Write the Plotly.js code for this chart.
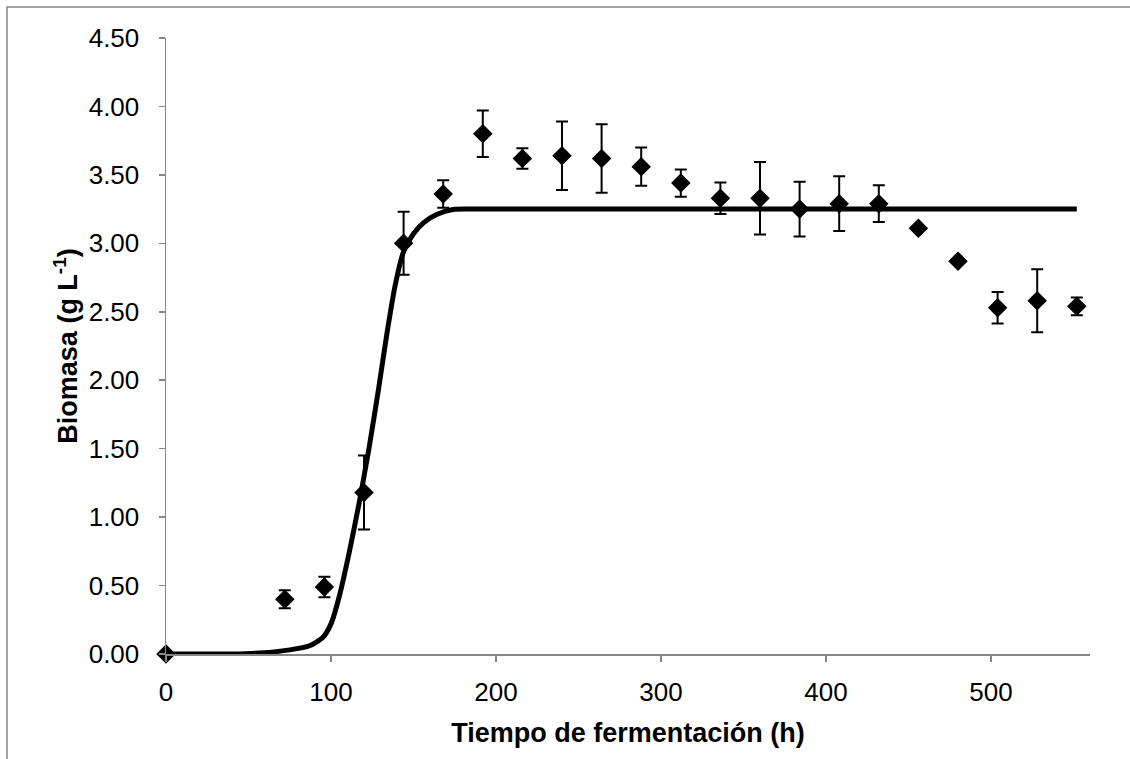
<!DOCTYPE html>
<html>
<head>
<meta charset="utf-8">
<script src="https://cdn.plot.ly/plotly-3.0.1.min.js"></script>
<style>
  html, body { margin: 0; padding: 0; background: #ffffff; }
  #chart { width: 1130px; height: 759px; }
</style>
</head>
<body>
<div id="chart"></div>
<script>
// Observed biomass (g/L) vs fermentation time (h)
var time_h = [0, 72, 96, 120, 144, 168, 192, 216, 240, 264, 288, 312, 336, 360, 384, 408, 432, 456, 480, 504, 528, 552];
var biomass = [0, 0.40, 0.49, 1.18, 3.00, 3.36, 3.80, 3.62, 3.64, 3.62, 3.56, 3.44, 3.33, 3.33, 3.25, 3.29, 3.29, 3.11, 2.87, 2.53, 2.58, 2.54];
var biomass_err = [0, 0.065, 0.075, 0.27, 0.23, 0.10, 0.17, 0.075, 0.25, 0.25, 0.14, 0.10, 0.115, 0.265, 0.20, 0.20, 0.135, 0, 0, 0.115, 0.23, 0.065];

// Model curve
var model_t = [0, 20, 40, 60, 75, 87, 95, 100, 105, 111, 117, 123, 129, 134, 139, 144, 150, 156, 164, 174, 185, 552];
var model_y = [0, 0, 0, 0.01, 0.03, 0.06, 0.12, 0.22, 0.42, 0.74, 1.10, 1.50, 1.95, 2.35, 2.70, 2.94, 3.07, 3.15, 3.21, 3.247, 3.25, 3.25];

var xTicks = [0, 100, 200, 300, 400, 500];
var yTicks = [0, 0.5, 1, 1.5, 2, 2.5, 3, 3.5, 4, 4.5];

var FONT = '"Liberation Sans", Arial, sans-serif';
var AXIS_GRAY = '#868686';

var traces = [
  {
    x: model_t, y: model_y, type: 'scatter', mode: 'lines',
    line: { color: '#000000', width: 5, shape: 'spline', smoothing: 0.6 },
    hoverinfo: 'skip', showlegend: false, cliponaxis: false
  },
  {
    x: time_h, y: biomass, type: 'scatter', mode: 'markers',
    marker: { symbol: 'diamond', size: 15, color: '#000000' },
    error_y: { type: 'data', array: biomass_err, visible: true, color: '#000000', thickness: 2, width: 6 },
    showlegend: false, cliponaxis: false
  }
];

var layout = {
  width: 1130, height: 759,
  paper_bgcolor: '#ffffff', plot_bgcolor: '#ffffff',
  margin: { l: 166, r: 40, t: 38, b: 105 },
  font: { family: FONT, color: '#000000', size: 26 },
  showlegend: false,
  xaxis: {
    range: [0, 560], tickvals: xTicks, ticktext: xTicks.map(String),
    showgrid: false, zeroline: false,
    showline: true, linecolor: AXIS_GRAY, linewidth: 1.5,
    ticks: 'outside', ticklen: 6, tickcolor: AXIS_GRAY, tickwidth: 1.5,
    tickfont: { family: FONT, size: 26, color: '#000000' },
    ticklabelstandoff: 8,
    title: { text: '<b>Tiempo de fermentación (h)</b>', font: { family: FONT, size: 27, color: '#000000' }, standoff: 17 },
    automargin: false
  },
  yaxis: {
    range: [0, 4.5], tickvals: yTicks, ticktext: yTicks.map(function (v) { return v.toFixed(2); }),
    showgrid: false, zeroline: false,
    showline: true, linecolor: AXIS_GRAY, linewidth: 1.5,
    ticks: 'outside', ticklen: 6, tickcolor: AXIS_GRAY, tickwidth: 1.5,
    tickfont: { family: FONT, size: 26, color: '#000000' },
    ticklabelstandoff: 14,
    title: { text: '<b>Biomasa (g L<sup>-1</sup>)</b>', font: { family: FONT, size: 27, color: '#000000' }, standoff: 3 },
    automargin: false
  },
  shapes: [
    {
      type: 'rect', xref: 'paper', yref: 'paper',
      x0: (7 - 166) / 924, x1: (1140 - 166) / 924,
      y0: (654 - 770) / 616, y1: (654 - 7) / 616,
      line: { color: AXIS_GRAY, width: 1.5 }, fillcolor: 'rgba(0,0,0,0)', layer: 'below'
    }
  ]
};

Plotly.newPlot('chart', traces, layout, { displayModeBar: false, staticPlot: true });
</script>
</body>
</html>
